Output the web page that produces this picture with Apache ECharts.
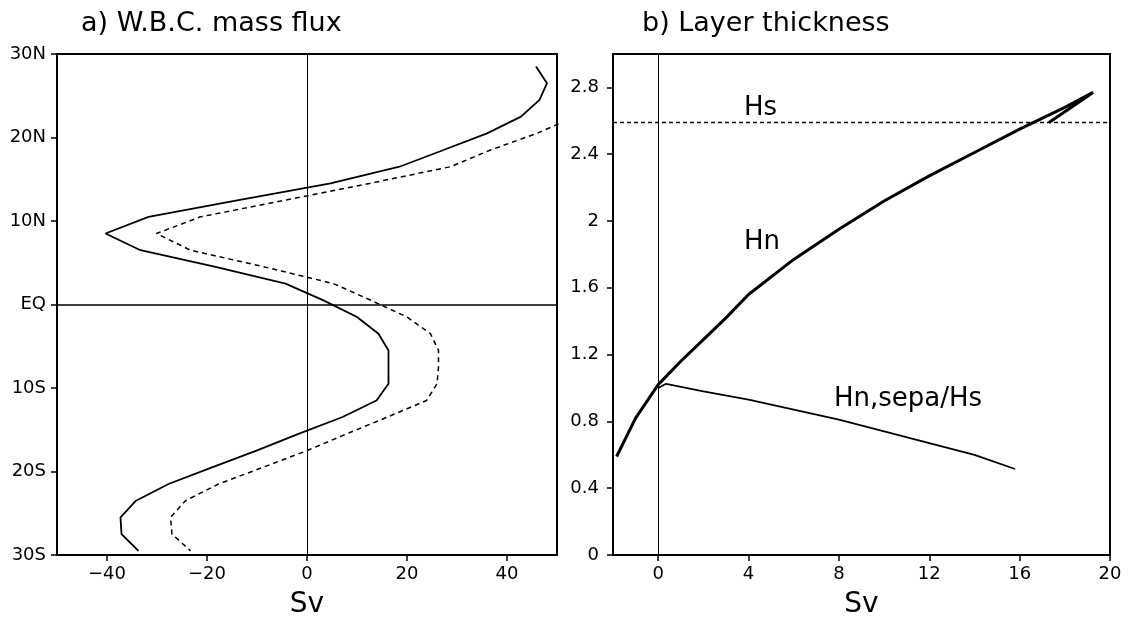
<!DOCTYPE html>
<html>
<head>
<meta charset="utf-8">
<script src="https://cdn.jsdelivr.net/npm/echarts@6/dist/echarts.min.js"></script>
<style>
  html, body { margin: 0; padding: 0; background: #fff; }
  #chart { width: 1128px; height: 628px; }
</style>
</head>
<body>
<div id="chart"></div>
<script>
// ---- Panel a) W.B.C. mass flux ----
const latitudes = [28.5, 26.5, 24.5, 22.5, 20.5, 18.5, 16.5, 14.5, 12.5, 10.5,
                   8.5, 6.5, 4.5, 2.5, 0.5, -1.5, -3.5, -5.5, -7.5, -9.5,
                   -11.5, -13.5, -15.5, -17.5, -19.5, -21.5, -23.5, -25.5, -27.5, -29.5];
const fluxSolid = [45.8, 48.0, 46.5, 42.8, 36.0, 27.3, 18.5, 4.7, -13.7, -31.7,
                   -40.3, -33.3, -18.3, -4.3, 3.3, 10.0, 14.3, 16.3, 16.3, 16.3,
                   13.9, 7.0, -1.7, -10.1, -19.0, -27.7, -34.2, -37.3, -37.1, -33.7];
const fluxDashed = [null, null, null, 53.6, 46.0, 36.7, 28.7, 12.5, -4.4, -21.3,
                    -30.1, -23.3, -8.5, 5.3, 12.8, 20.0, 24.7, 26.3, 26.3, 26.0,
                    23.9, 16.0, 7.9, 0.0, -8.8, -17.7, -24.3, -27.3, -27.0, -23.3];
const fluxTicks = [-40, -20, 0, 20, 40];
const latTicks = [-30, -20, -10, 0, 10, 20, 30];

// ---- Panel b) Layer thickness ----
const hnSv = [-1.84, -1, 0, 1, 2, 3, 4, 6, 8, 10, 12, 14, 16, 18, 19.25, 17.3];
const hnH  = [0.59, 0.82, 1.02, 1.16, 1.29, 1.42, 1.56, 1.77, 1.95, 2.12, 2.27, 2.41, 2.55, 2.68, 2.77, 2.59];
const sepaSv = [0.0, 0.35, 2, 4, 6, 8, 10, 12, 14, 15.8];
const sepaH  = [1.0, 1.025, 0.98, 0.93, 0.87, 0.81, 0.74, 0.67, 0.6, 0.515];
const hsValue = 2.59;
const svTicks = [0, 4, 8, 12, 16, 20];
const hTicks = [0, 0.4, 0.8, 1.2, 1.6, 2, 2.4, 2.8];

const FONT = 'DejaVu Sans';
const pair = (xs, ys) => xs.map((x, i) => [x, ys[i]]).filter(p => p[0] !== null && p[1] !== null);
const pairRev = (vals, lats) => vals.map((v, i) => [v, lats[i]]).filter(p => p[0] !== null);

function latLabel(v) {
  if (v === 0) return 'EQ';
  return Math.abs(v) + (v > 0 ? 'N' : 'S');
}
function numLabel(v) {
  return (v < 0 ? '\u2212' : '') + Math.abs(v);
}

const axisCommon = {
  axisLine: { show: true, onZero: false, lineStyle: { color: '#000', width: 2 } },
  axisTick: { show: true, inside: false, length: 6, lineStyle: { color: '#000', width: 1.5 } },
  splitLine: { show: false },
  axisLabel: { color: '#000', fontFamily: FONT, fontSize: 18 }
};

const chart = echarts.init(document.getElementById('chart'), null, { renderer: 'canvas' });
chart.setOption({
  backgroundColor: '#fff',
  animation: false,
  title: [
    { text: 'a) W.B.C. mass flux', left: 76, top: 5,
      textStyle: { fontFamily: FONT, fontSize: 27, fontWeight: 'normal', color: '#000' } },
    { text: 'b) Layer thickness', left: 637, top: 5,
      textStyle: { fontFamily: FONT, fontSize: 27, fontWeight: 'normal', color: '#000' } }
  ],
  grid: [
    { left: 57, top: 54, width: 500, height: 501, show: true, borderColor: '#000', borderWidth: 2, backgroundColor: 'transparent' },
    { left: 613, top: 54, width: 497, height: 501, show: true, borderColor: '#000', borderWidth: 2, backgroundColor: 'transparent' }
  ],
  xAxis: [
    Object.assign({}, axisCommon, {
      type: 'value', gridIndex: 0, min: -50, max: 50,
      name: 'Sv', nameLocation: 'middle', nameGap: 36,
      nameTextStyle: { fontFamily: FONT, fontSize: 28, color: '#000' },
      axisTick: Object.assign({}, axisCommon.axisTick, { customValues: fluxTicks }),
      axisLabel: Object.assign({}, axisCommon.axisLabel, { customValues: fluxTicks, margin: 10, formatter: numLabel })
    }),
    Object.assign({}, axisCommon, {
      type: 'value', gridIndex: 1, min: -2, max: 20,
      name: 'Sv', nameLocation: 'middle', nameGap: 36,
      nameTextStyle: { fontFamily: FONT, fontSize: 28, color: '#000' },
      axisTick: Object.assign({}, axisCommon.axisTick, { customValues: svTicks }),
      axisLabel: Object.assign({}, axisCommon.axisLabel, { customValues: svTicks, margin: 10, formatter: numLabel })
    })
  ],
  yAxis: [
    Object.assign({}, axisCommon, {
      type: 'value', gridIndex: 0, min: -30, max: 30,
      axisTick: Object.assign({}, axisCommon.axisTick, { customValues: latTicks }),
      axisLabel: Object.assign({}, axisCommon.axisLabel, { customValues: latTicks, margin: 11, formatter: latLabel })
    }),
    Object.assign({}, axisCommon, {
      type: 'value', gridIndex: 1, min: 0, max: 3,
      axisTick: Object.assign({}, axisCommon.axisTick, { customValues: hTicks }),
      axisLabel: Object.assign({}, axisCommon.axisLabel, { customValues: hTicks, margin: 14, formatter: v => String(+v.toFixed(1)) })
    })
  ],
  series: [
    {
      type: 'line', xAxisIndex: 0, yAxisIndex: 0, clip: true,
      data: pairRev(fluxSolid, latitudes), symbol: 'none', silent: true,
      lineStyle: { color: '#000', width: 1.8 },
      markLine: {
        silent: true, symbol: 'none', label: { show: false },
        data: [
          { xAxis: 0, lineStyle: { color: '#000', type: 'solid', width: 1 } },
          { yAxis: 0, lineStyle: { color: '#000', type: 'solid', width: 1.5 } }
        ]
      }
    },
    {
      type: 'line', xAxisIndex: 0, yAxisIndex: 0, clip: true,
      data: pairRev(fluxDashed, latitudes), symbol: 'none', silent: true,
      lineStyle: { color: '#000', width: 1.5, type: [5, 4] }
    },
    {
      type: 'line', xAxisIndex: 1, yAxisIndex: 1, clip: true,
      data: pair(hnSv, hnH), symbol: 'none', silent: true,
      lineStyle: { color: '#000', width: 3 },
      markLine: {
        silent: true, symbol: 'none', label: { show: false },
        data: [
          { xAxis: 0, lineStyle: { color: '#000', type: 'solid', width: 1 } },
          { yAxis: hsValue, lineStyle: { color: '#000', type: [4, 3], width: 1.3 } }
        ]
      }
    },
    {
      type: 'line', xAxisIndex: 1, yAxisIndex: 1, clip: true,
      data: pair(sepaSv, sepaH), symbol: 'none', silent: true,
      lineStyle: { color: '#000', width: 1.8 }
    }
  ],
  graphic: [
    { type: 'text', left: 744, top: 95, style: { text: 'Hs', font: '26px "DejaVu Sans"', fill: '#000' } },
    { type: 'text', left: 744, top: 229, style: { text: 'Hn', font: '26px "DejaVu Sans"', fill: '#000' } },
    { type: 'text', left: 834, top: 386, style: { text: 'Hn,sepa/Hs', font: '26px "DejaVu Sans"', fill: '#000' } }
  ]
});
</script>
</body>
</html>
